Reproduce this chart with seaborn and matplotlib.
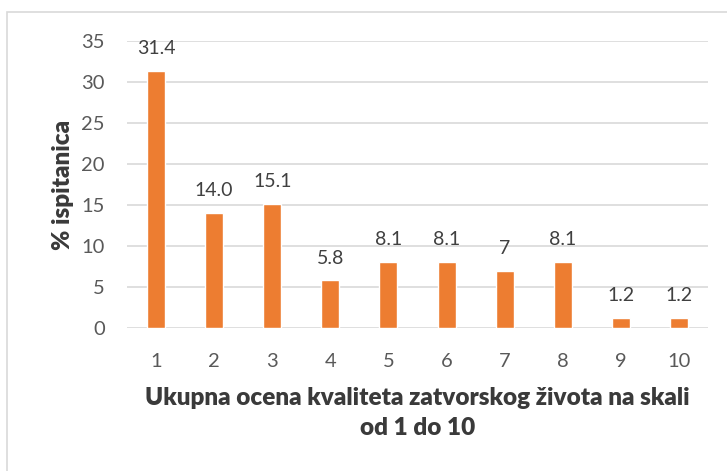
import matplotlib
matplotlib.use("Agg")
import matplotlib.pyplot as plt
import matplotlib.patches as mpatches
import seaborn as sns
import pandas as pd

categories = ["1", "2", "3", "4", "5", "6", "7", "8", "9", "10"]
values = [31.4, 14.0, 15.1, 5.8, 8.1, 8.1, 7.0, 8.1, 1.2, 1.2]
value_labels = ["31.4", "14.0", "15.1", "5.8", "8.1", "8.1", "7", "8.1", "1.2", "1.2"]
y_ticks = [0, 5, 10, 15, 20, 25, 30, 35]
x_title = "Ukupna ocena kvaliteta zatvorskog života na skali\nod 1 do 10"
y_title = "% ispitanica"

sns.set_theme(style="white")
plt.rcParams["font.family"] = ["Lato", "DejaVu Sans"]

df = pd.DataFrame({"ocena": categories, "pct": values})

fig = plt.figure(figsize=(7.27, 4.71), dpi=100)
ax = fig.add_axes([127/727, 1 - 328/471, (708-127)/727, (328-41)/471])

sns.barplot(data=df, x="ocena", y="pct", order=categories, color="#ED7D31",
            saturation=1, width=0.31, ax=ax)

ax.set_ylim(0, 35)
ax.set_yticks(y_ticks)
ax.yaxis.grid(True, color="#D9D9D9", linewidth=1.2)
ax.set_axisbelow(True)
for s in ax.spines.values():
    s.set_visible(False)
ax.tick_params(axis="y", length=0, pad=16, labelsize=14.5, labelcolor="#595959")
ax.tick_params(axis="x", length=0, pad=18, labelsize=14.5, labelcolor="#595959")

ax.bar_label(ax.containers[0], labels=value_labels, padding=10,
             fontsize=14, color="#404040")

ax.set_xlabel(x_title, fontsize=17.5, fontweight="heavy", color="#3A3A3A",
              labelpad=12, linespacing=1.45)
ax.set_ylabel(y_title, fontsize=17.5, fontweight="heavy", color="#3A3A3A",
              labelpad=5)

border = mpatches.Rectangle((7/727, -0.1), 1.2, 1 - 12/471 + 0.1,
                            transform=fig.transFigure, fill=False,
                            edgecolor="#D9D9D9", linewidth=1.2)
fig.patches.append(border)

fig.savefig("out.png", dpi=100)
